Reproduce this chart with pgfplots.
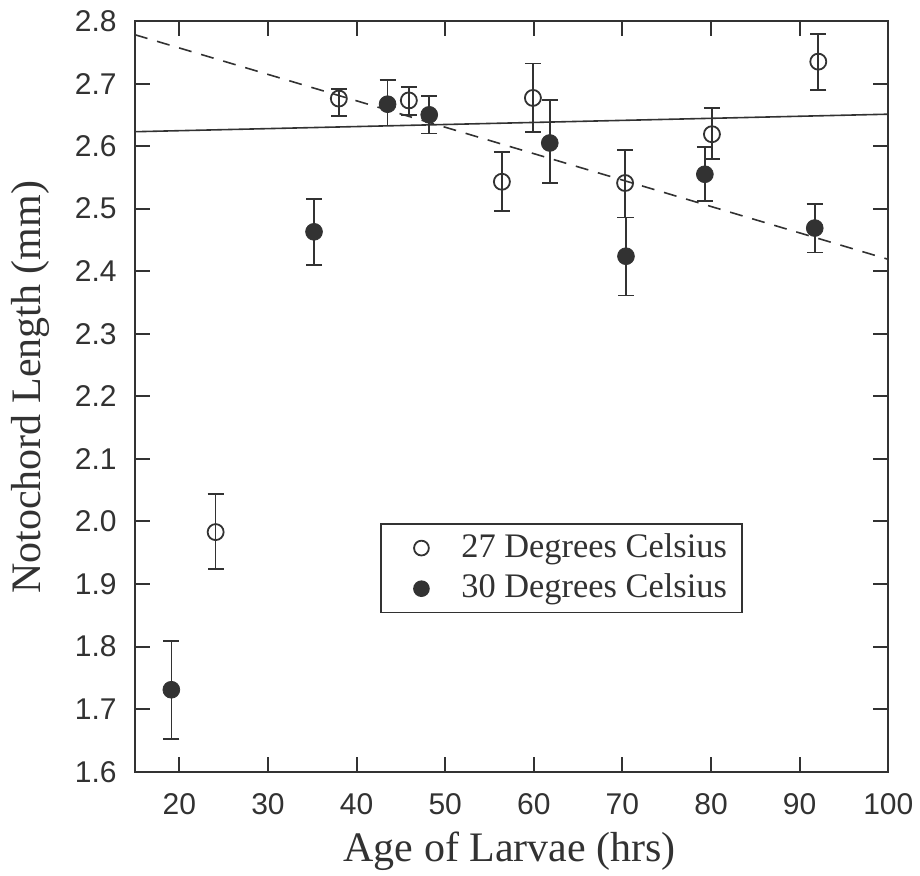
\documentclass[border=0pt]{standalone}
\usepackage{fontspec}
\setmainfont{Liberation Serif}
\newfontfamily\ticksans{Liberation Sans}
\usepackage{pgfplots}
\pgfplotsset{compat=1.18}

\definecolor{ink}{RGB}{50,50,50}

\begin{document}
\begin{tikzpicture}
\begin{axis}[
  at={(0,0)}, anchor=south west,
  scale only axis,
  width=376.65pt, height=375.35pt,
  xmin=15, xmax=100,
  ymin=1.6, ymax=2.8,
  xtick={20,30,40,50,60,70,80,90,100},
  ytick={1.6,1.7,1.8,1.9,2.0,2.1,2.2,2.3,2.4,2.5,2.6,2.7,2.8},
  tick align=inside,
  major tick length=7.5pt,
  axis line style={ink, line width=1pt},
  tick style={ink, line width=1pt},
  /pgf/number format/assume math mode=true,
  tick label style={font=\ticksans\fontsize{15}{15}\selectfont, text=ink, inner sep=0pt},
  xticklabel style={anchor=north, yshift=-10.7pt},
  yticklabel style={anchor=east, xshift=-9pt,
    /pgf/number format/fixed, /pgf/number format/fixed zerofill,
    /pgf/number format/precision=1},
  every axis y label/.style={at={(axis description cs:-0.1261,0.512)}, rotate=90, anchor=base},
  every axis x label/.style={at={(axis description cs:0.4975,-0.1199)}, anchor=base},
  label style={font=\fontsize{21}{21}\selectfont, text=ink},
  xlabel={Age of Larvae (hrs)},
  ylabel={Notochord Length (mm)},
  legend cell align=left,
  legend style={
    at={(axis description cs:0.3257,0.3309)}, anchor=north west,
    draw=ink, line width=0.9pt,
    inner xsep=7.5pt, inner ysep=3.95pt,
    row sep=4.3pt, column sep=13.5pt,
    nodes={inner sep=0pt, text height=12.5pt, text depth=3.5pt,
           font=\fontsize{17.2}{17.2}\selectfont, text=ink},
  },
  legend image code/.code={
    \path (-12.15pt,0pt) (6pt,0pt);
    \draw[#1, mark size=3.7pt] plot coordinates {(0pt,0pt)};
  },
]

% regression lines
\addplot[ink, line width=0.8pt, forget plot] coordinates {(15,2.623) (100,2.651)};
\addplot[ink, line width=0.8pt, dash pattern=on 6.5pt off 5pt, forget plot]
  coordinates {(15,2.778) (100,2.419)};

% 27 C
\addplot[only marks, mark=o, mark size=4pt, mark options={draw=ink, line width=0.9pt},
  error bars/.cd, y dir=both, y explicit,
  error bar style={ink, line width=0.8pt},
  error mark options={ink, line width=0.8pt, mark size=4pt, rotate=90}]
coordinates {
  (24.1,1.983) += (0,0.061) -= (0,0.059)
  (38.0,2.676) += (0,0.015) -= (0,0.028)
  (45.9,2.673) += (0,0.021) -= (0,0.023)
  (56.4,2.543) += (0,0.048) -= (0,0.047)
  (59.9,2.677) += (0,0.055) -= (0,0.054)
  (70.3,2.541) += (0,0.053) -= (0,0.055)
  (80.1,2.619) += (0,0.042) -= (0,0.040)
  (92.1,2.735) += (0,0.044) -= (0,0.045)
};
\addlegendentry{27 Degrees Celsius}

% 30 C
\addplot[only marks, mark=*, mark size=4.2pt, mark options={draw=ink, fill=ink},
  error bars/.cd, y dir=both, y explicit,
  error bar style={ink, line width=0.8pt},
  error mark options={ink, line width=0.8pt, mark size=4pt, rotate=90}]
coordinates {
  (19.1,1.731) += (0,0.078) -= (0,0.079)
  (35.2,2.463) += (0,0.052) -= (0,0.053)
  (43.5,2.667) += (0,0.039) -= (0,0.034)
  (48.2,2.650) += (0,0.030) -= (0,0.030)
  (61.8,2.605) += (0,0.069) -= (0,0.064)
  (70.4,2.424) += (0,0.062) -= (0,0.063)
  (79.3,2.555) += (0,0.044) -= (0,0.043)
  (91.7,2.469) += (0,0.038) -= (0,0.039)
};
\addlegendentry{30 Degrees Celsius}

\end{axis}
\pgfresetboundingbox
\useasboundingbox (-67.5pt,-52.15pt) rectangle (392.5pt,385.85pt);
\end{tikzpicture}
\end{document}
